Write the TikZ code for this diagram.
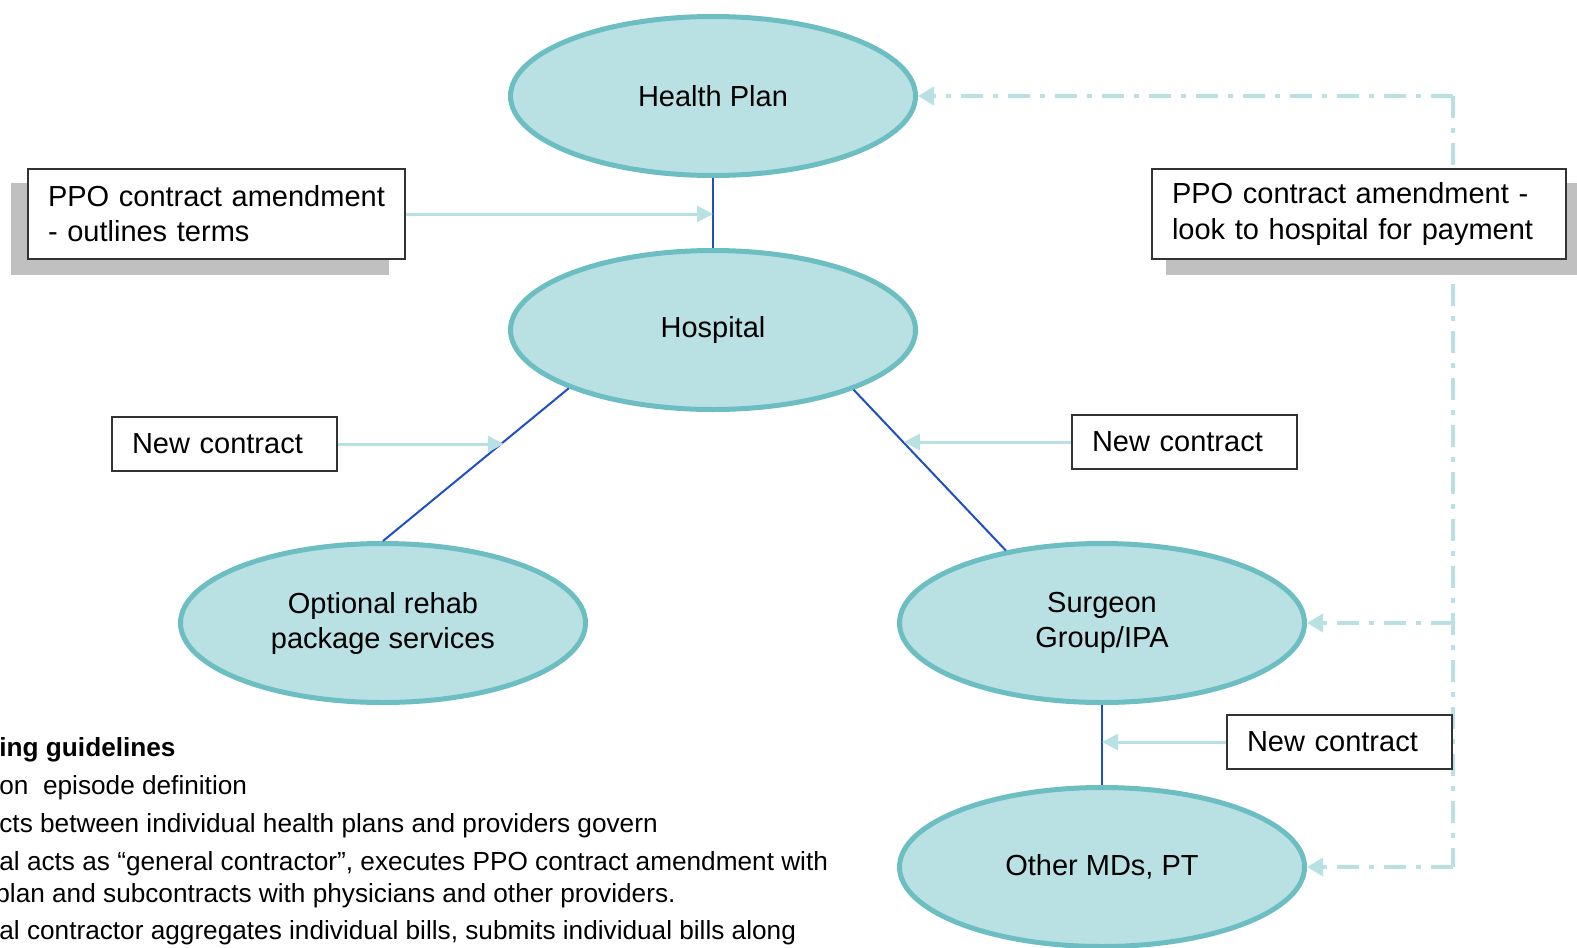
\documentclass[tikz,border=0pt]{standalone}
\usepackage{fontspec}
\setmainfont{Liberation Sans}
\usetikzlibrary{shapes.geometric,arrows.meta}
\definecolor{tealfill}{HTML}{B9E0E3}
\definecolor{tealline}{HTML}{6CBEC2}
\definecolor{linkblue}{HTML}{1F4FC4}
\definecolor{shadowgray}{HTML}{C0C0C0}
\begin{document}
\begin{tikzpicture}[x=0.5pt,y=-0.5pt,
    party/.style={ellipse,draw=tealline,fill=tealfill,line width=2.5pt,
      minimum width=202.5pt,minimum height=79.5pt,inner sep=0pt,align=center,
      font=\fontsize{14.5}{17.5}\selectfont},
    note/.style={rectangle,draw=black!80,fill=white,line width=0.7pt,
      inner xsep=10pt,inner ysep=0pt,align=left,
      font=\fontsize{14.5}{17.5}\selectfont},
    link/.style={draw=linkblue,line width=1pt},
    feed/.style={draw=tealfill,line width=1.5pt,-{Triangle[length=8pt,width=8pt]}},
    ddash/.style={draw=tealfill,line width=2pt,dash pattern=on 11pt off 5pt on 2.5pt off 5pt},
    guide/.style={anchor=base west,inner sep=0pt,font=\fontsize{13.1}{15}\selectfont}]
    \useasboundingbox (0,0) rectangle (1577,947);
    \clip (0,0) rectangle (1577,947);
    % ellipses
    \node[party] (hp) at (713,96) {Health Plan};
    \node[party] (hosp) at (713,330) {Hospital};
    \node[party] (rehab) at (383,623) {Optional rehab\\package services};
    \node[party] (surg) at (1102,623) {Surgeon\\Group/IPA};
    \node[party] (oth) at (1102,867) {Other MDs, PT};
    % contract lines
    \draw[link] (hp.south) -- (hosp.north) coordinate[pos=0.5] (mhp);
    \draw[link] (hosp.202) -- (rehab.north) coordinate[pos=0.35] (mhr);
    \draw[link] (hosp.-23) -- (surg.143) coordinate[pos=0.33] (mhs);
    \draw[link] (surg.south) -- (oth.north);
    % payment route
    \coordinate (bus) at (1453,0);
    \draw[ddash] (hp.east -| bus) -- (oth.east -| bus);
    \draw[ddash,-{Triangle[length=8pt,width=9pt]}] (hp.east -| bus) -- (hp.east);
    \draw[ddash,-{Triangle[length=8pt,width=9pt]}] (surg.east -| bus) -- (surg.east);
    \draw[ddash,-{Triangle[length=8pt,width=9pt]}] (oth.east -| bus) -- (oth.east);
    % boxes
    \fill[shadowgray] (11,183) rectangle (389,275);
    \node[note,text width=168.5pt,minimum height=45pt] (ppoL) at (216.5,214)
      {PPO contract amendment\\- outlines terms};
    \fill[shadowgray] (1166,183) rectangle (1577,275);
    \node[note,text width=187pt,minimum height=45pt] (ppoR) at (1359,214)
      {PPO contract amendment -\\look to hospital for payment};
    \node[note,text width=92.5pt,minimum height=27pt] (ncL) at (224.5,444) {New contract};
    \node[note,text width=92.5pt,minimum height=27pt] (ncR) at (1184.5,442) {New contract};
    \node[note,text width=92.5pt,minimum height=27pt] (ncB) at (1339.5,742) {New contract};
    % box arrows
    \draw[feed] (ppoL.east) -- (ppoL.east -| mhp);
    \draw[feed] (ncL.east) -- (ncL.east -| mhr);
    \draw[feed] (ncR.west) -- (ncR.west -| mhs);
    \draw[feed] (ncB.west) -- (ncB.west -| surg.south);
    % guidelines text
    \node[guide,font=\fontsize{13.1}{15}\selectfont\bfseries] (g1) at (-1,756) {ing guidelines};
    \node[guide] (g2) at (-1,794) {on\ \ episode definition};
    \node[guide] (g3) at (-1,832) {cts between individual health plans and providers govern};
    \node[guide] (g4) at (-1,870) {al acts as “general contractor”, executes PPO contract amendment with};
    \node[guide] (g5) at (-5,902) {plan and subcontracts with physicians and other providers.};
    \node[guide] (g6) at (-1,939) {al contractor aggregates individual bills, submits individual bills along};
\end{tikzpicture}
\end{document}
